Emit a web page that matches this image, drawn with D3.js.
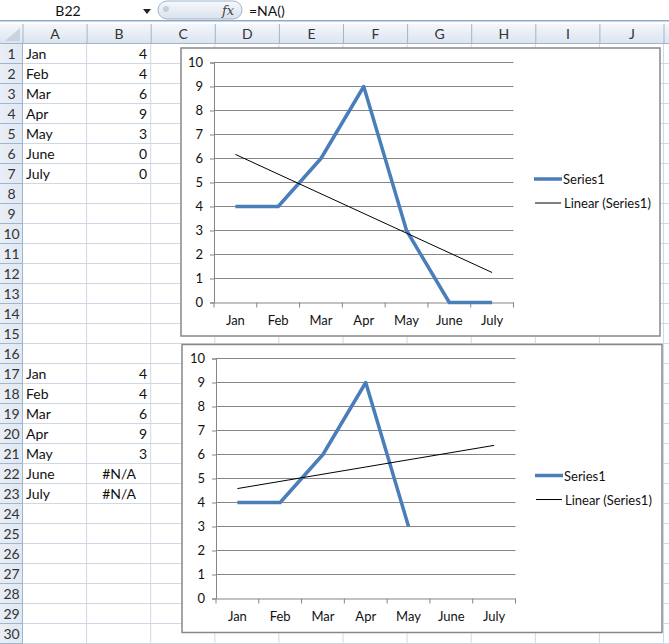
<!DOCTYPE html>
<html>
<head>
<meta charset="utf-8">
<script src="https://cdn.jsdelivr.net/npm/d3@7"></script>
<style>
  body { margin: 0; background: #fff; }
  svg { display: block; font-family: Lato, "Noto Sans", sans-serif; }
</style>
</head>
<body>
<div id="sheet"></div>
<script>
// sheet contents
const months = ["Jan", "Feb", "Mar", "Apr", "May", "June", "July"];
const values1 = [4, 4, 6, 9, 3, 0, 0];
const values2 = [4, 4, 6, 9, 3, null, null]; // June/July are #N/A
const trend1 = [6.17, 1.25]; // linear trendline, Jan -> July
const trend2 = [4.58, 6.38];
const yTicks = [0, 1, 2, 3, 4, 5, 6, 7, 8, 9, 10];
const colNames = ["A", "B", "C", "D", "E", "F", "G", "H", "I", "J"];
const rowCount = 30;

const width = 669;
const height = 644;

const svg = d3.select("#sheet").append("svg")
  .attr("width", width)
  .attr("height", height);

// grid geometry
const headerTop = 24, headerBottom = 44, rowH = 20, rowHeadW = 23, colW = 64.1;
const colX = (i) => rowHeadW + i * colW;
const rowY = (r) => headerBottom + (r - 1) * rowH;

const defs = svg.append("defs");
const hdrGrad = defs.append("linearGradient").attr("id", "hdr").attr("x1", 0).attr("y1", 0).attr("x2", 0).attr("y2", 1);
hdrGrad.append("stop").attr("offset", "0%").attr("stop-color", "#f4f7fc");
hdrGrad.append("stop").attr("offset", "100%").attr("stop-color", "#dbe3ee");
const rowGrad = defs.append("linearGradient").attr("id", "rowhdr").attr("x1", 0).attr("y1", 0).attr("x2", 1).attr("y2", 0);
rowGrad.append("stop").attr("offset", "0%").attr("stop-color", "#e9eef6");
rowGrad.append("stop").attr("offset", "100%").attr("stop-color", "#e1e8f2");
const pillGrad = defs.append("linearGradient").attr("id", "pill").attr("x1", 0).attr("y1", 0).attr("x2", 0).attr("y2", 1);
pillGrad.append("stop").attr("offset", "0%").attr("stop-color", "#f7f9fc");
pillGrad.append("stop").attr("offset", "100%").attr("stop-color", "#d9e1ec");

// formula bar
const fbar = svg.append("g");
fbar.append("text").attr("x", 68).attr("y", 16).attr("text-anchor", "middle")
  .attr("font-size", 14).attr("fill", "#111").text("B22");
fbar.append("path").attr("d", "M143,9 L151,9 L147,14 Z").attr("fill", "#222");
fbar.append("rect").attr("x", 158).attr("y", 1).attr("width", 84).attr("height", 18).attr("rx", 9)
  .attr("fill", "url(#pill)").attr("stroke", "#9fb4cc");
fbar.append("circle").attr("cx", 166).attr("cy", 9).attr("r", 3).attr("fill", "#c6ced8");
fbar.append("text").attr("x", 228).attr("y", 14.5).attr("text-anchor", "middle")
  .attr("font-size", 13).attr("font-style", "italic").attr("font-family", "DejaVu Serif")
  .attr("fill", "#444").text("fx");
fbar.append("text").attr("x", 249).attr("y", 16).attr("font-size", 14).attr("fill", "#111").text("=NA()");
fbar.append("rect").attr("x", 0).attr("y", 20).attr("width", width).attr("height", 1.5).attr("fill", "#8ea9c9");

// column headers
const hdr = svg.append("g");
hdr.append("rect").attr("x", 0).attr("y", headerTop).attr("width", width).attr("height", headerBottom - headerTop)
  .attr("fill", "url(#hdr)");
hdr.append("path").attr("d", `M${rowHeadW - 3},${headerTop + 4} L${rowHeadW - 3},${headerBottom - 3} L5,${headerBottom - 3} Z`)
  .attr("fill", "#c9d3df");
hdr.selectAll("line.csep").data(d3.range(colNames.length + 1)).join("line")
  .attr("x1", (i) => colX(i)).attr("x2", (i) => colX(i))
  .attr("y1", headerTop).attr("y2", headerBottom)
  .attr("stroke", "#9eb6ce");
hdr.selectAll("text").data(colNames).join("text")
  .attr("x", (d, i) => colX(i) + colW / 2).attr("y", headerBottom - 5)
  .attr("text-anchor", "middle").attr("font-size", 14).attr("fill", "#333")
  .text((d) => d);
hdr.append("line").attr("x1", 0).attr("x2", width).attr("y1", headerBottom - 0.5).attr("y2", headerBottom - 0.5)
  .attr("stroke", "#9eb6ce");

// row headers
const rows = d3.range(1, rowCount + 1);
const rh = svg.append("g");
rh.append("rect").attr("x", 0).attr("y", headerBottom).attr("width", rowHeadW).attr("height", height - headerBottom)
  .attr("fill", "url(#rowhdr)");
rh.selectAll("line").data(rows).join("line")
  .attr("x1", 0).attr("x2", rowHeadW).attr("y1", (r) => rowY(r) + rowH - 0.5).attr("y2", (r) => rowY(r) + rowH - 0.5)
  .attr("stroke", "#9eb6ce");
rh.append("line").attr("x1", rowHeadW - 0.5).attr("x2", rowHeadW - 0.5).attr("y1", headerBottom).attr("y2", height)
  .attr("stroke", "#9eb6ce");
rh.selectAll("text").data(rows).join("text")
  .attr("x", rowHeadW / 2).attr("y", (r) => rowY(r) + 15)
  .attr("text-anchor", "middle").attr("font-size", 14).attr("fill", "#333")
  .text((r) => r);

// cell gridlines
const grid = svg.append("g").attr("stroke", "#d0d7e5");
grid.selectAll("line.h").data(rows).join("line").attr("class", "h")
  .attr("x1", rowHeadW).attr("x2", width)
  .attr("y1", (r) => rowY(r) + rowH - 0.5).attr("y2", (r) => rowY(r) + rowH - 0.5);
grid.selectAll("line.v").data(d3.range(1, colNames.length + 1)).join("line").attr("class", "v")
  .attr("x1", (i) => colX(i) - 0.5).attr("x2", (i) => colX(i) - 0.5)
  .attr("y1", headerBottom).attr("y2", height);

// cell values
const cells = svg.append("g").attr("font-size", 14).attr("fill", "#111");
function writeBlock(startRow, vals) {
  months.forEach((m, i) => {
    const y = rowY(startRow + i) + 15;
    cells.append("text").attr("x", colX(0) + 3).attr("y", y).text(m);
    if (vals[i] === null) {
      cells.append("text").attr("x", colX(1) + colW / 2).attr("y", y).attr("text-anchor", "middle").text("#N/A");
    } else {
      cells.append("text").attr("x", colX(2) - 4).attr("y", y).attr("text-anchor", "end").text(vals[i]);
    }
  });
}
writeBlock(1, values1);
writeBlock(17, values2);

// charts
function drawChart(box, plot, vals, trend) {
  const g = svg.append("g");
  g.append("rect").attr("x", box.x).attr("y", box.y).attr("width", box.w).attr("height", box.h)
    .attr("fill", "#fff").attr("stroke", "#888").attr("stroke-width", 1.5);

  const x = d3.scaleBand().domain(months).range([plot.left, plot.right]).padding(0);
  const y = d3.scaleLinear().domain([0, 10]).range([plot.bottom, plot.top]);
  const cx = (m) => x(m) + x.bandwidth() / 2;

  // horizontal gridlines
  g.append("g").selectAll("line").data(yTicks.slice(1)).join("line")
    .attr("x1", plot.left).attr("x2", plot.right)
    .attr("y1", (d) => y(d)).attr("y2", (d) => y(d))
    .attr("stroke", "#868686").attr("stroke-width", 1);

  // y axis
  const yAxis = g.append("g").attr("transform", `translate(${plot.left},0)`)
    .call(d3.axisLeft(y).tickValues(yTicks).tickSize(4).tickPadding(7).tickFormat(d3.format("d")));
  yAxis.select(".domain").attr("stroke", "#868686");
  yAxis.selectAll(".tick line").attr("stroke", "#868686");
  yAxis.selectAll("text").attr("font-family", "Lato, 'Noto Sans', sans-serif").attr("font-size", 13).attr("fill", "#111");

  // x axis with ticks on band edges
  const xAxis = g.append("g").attr("transform", `translate(0,${plot.bottom})`)
    .call(d3.axisBottom(x).tickSize(0).tickPadding(13));
  xAxis.select(".domain").attr("stroke", "#868686");
  xAxis.selectAll("text").attr("font-family", "Lato, 'Noto Sans', sans-serif").attr("font-size", 13).attr("fill", "#111");
  const edges = months.map((m) => x(m)).concat([plot.right]);
  xAxis.selectAll("line.edge").data(edges).join("line").attr("class", "edge")
    .attr("x1", (d) => d).attr("x2", (d) => d).attr("y1", 0).attr("y2", 5)
    .attr("stroke", "#868686");

  // series
  const line = d3.line()
    .defined((d) => d.v !== null)
    .x((d) => cx(d.m))
    .y((d) => y(d.v));
  g.append("path")
    .datum(months.map((m, i) => ({ m, v: vals[i] })))
    .attr("d", line)
    .attr("fill", "none").attr("stroke", "#4a7ebb").attr("stroke-width", 3.5)
    .attr("stroke-linejoin", "round");

  // linear trendline
  g.append("line")
    .attr("x1", cx(months[0])).attr("y1", y(trend[0]))
    .attr("x2", cx(months[months.length - 1])).attr("y2", y(trend[1]))
    .attr("stroke", "#000").attr("stroke-width", 1);

  // legend
  const lg = g.append("g").attr("font-size", 13).attr("fill", "#111");
  lg.append("line").attr("x1", box.legendX).attr("x2", box.legendX + 28)
    .attr("y1", box.legendY).attr("y2", box.legendY)
    .attr("stroke", "#4a7ebb").attr("stroke-width", 3.5);
  lg.append("text").attr("x", box.legendX + 29).attr("y", box.legendY + 5).text("Series1");
  lg.append("line").attr("x1", box.legendX + 1).attr("x2", box.legendX + 27)
    .attr("y1", box.legendY + 24).attr("y2", box.legendY + 24)
    .attr("stroke", "#000").attr("stroke-width", 1);
  lg.append("text").attr("x", box.legendX + 30).attr("y", box.legendY + 29).text("Linear (Series1)");
}

drawChart(
  { x: 181, y: 48, w: 479, h: 288, legendX: 534, legendY: 179 },
  { left: 214, right: 513.5, top: 62.5, bottom: 302.5 },
  values1, trend1
);
drawChart(
  { x: 182, y: 344.5, w: 480, h: 288, legendX: 535, legendY: 475.5 },
  { left: 216, right: 515.5, top: 358.5, bottom: 598.5 },
  values2, trend2
);
</script>
</body>
</html>
